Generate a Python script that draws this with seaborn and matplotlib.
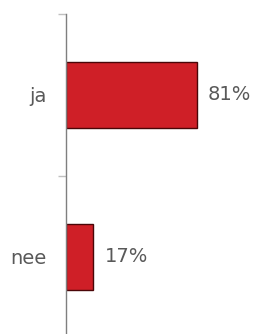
import matplotlib
matplotlib.use("Agg")
import matplotlib.pyplot as plt
import seaborn as sns
import pandas as pd
from matplotlib.ticker import FixedLocator

categories = ["ja", "nee"]
values = [81, 17]
value_labels = ["81%", "17%"]

sns.set_style("white")
plt.rcParams["font.family"] = ["DejaVu Sans"]

df = pd.DataFrame({"cat": categories, "val": values})

fig = plt.figure(figsize=(2.57, 3.34), dpi=100)
ax = fig.add_axes([66 / 257, -4 / 334, 161.5 / 257, 324 / 334])

sns.barplot(data=df, x="val", y="cat", orient="h", ax=ax, color="#cf1f27",
            width=0.41, edgecolor="#4a0608", linewidth=1.0, saturation=1)

ax.set_xlim(0, 100)
ax.set_ylim(1.5, -0.5)
ax.set_xlabel("")
ax.set_ylabel("")
ax.set_xticks([])

for s in ["top", "right", "bottom"]:
    ax.spines[s].set_visible(False)
ax.spines["left"].set_color("#7f7f7f")
ax.spines["left"].set_linewidth(1.0)

ax.yaxis.set_minor_locator(FixedLocator([-0.5, 0.5]))
ax.tick_params(axis="y", which="minor", length=6, width=1, color="#c0c0c0", left=True)
ax.tick_params(axis="y", which="major", length=0, pad=14, labelsize=14, labelcolor="#595959")

ax.bar_label(ax.containers[0], labels=value_labels, padding=8,
             fontsize=14, color="#595959")

fig.savefig("out.png", dpi=100)
